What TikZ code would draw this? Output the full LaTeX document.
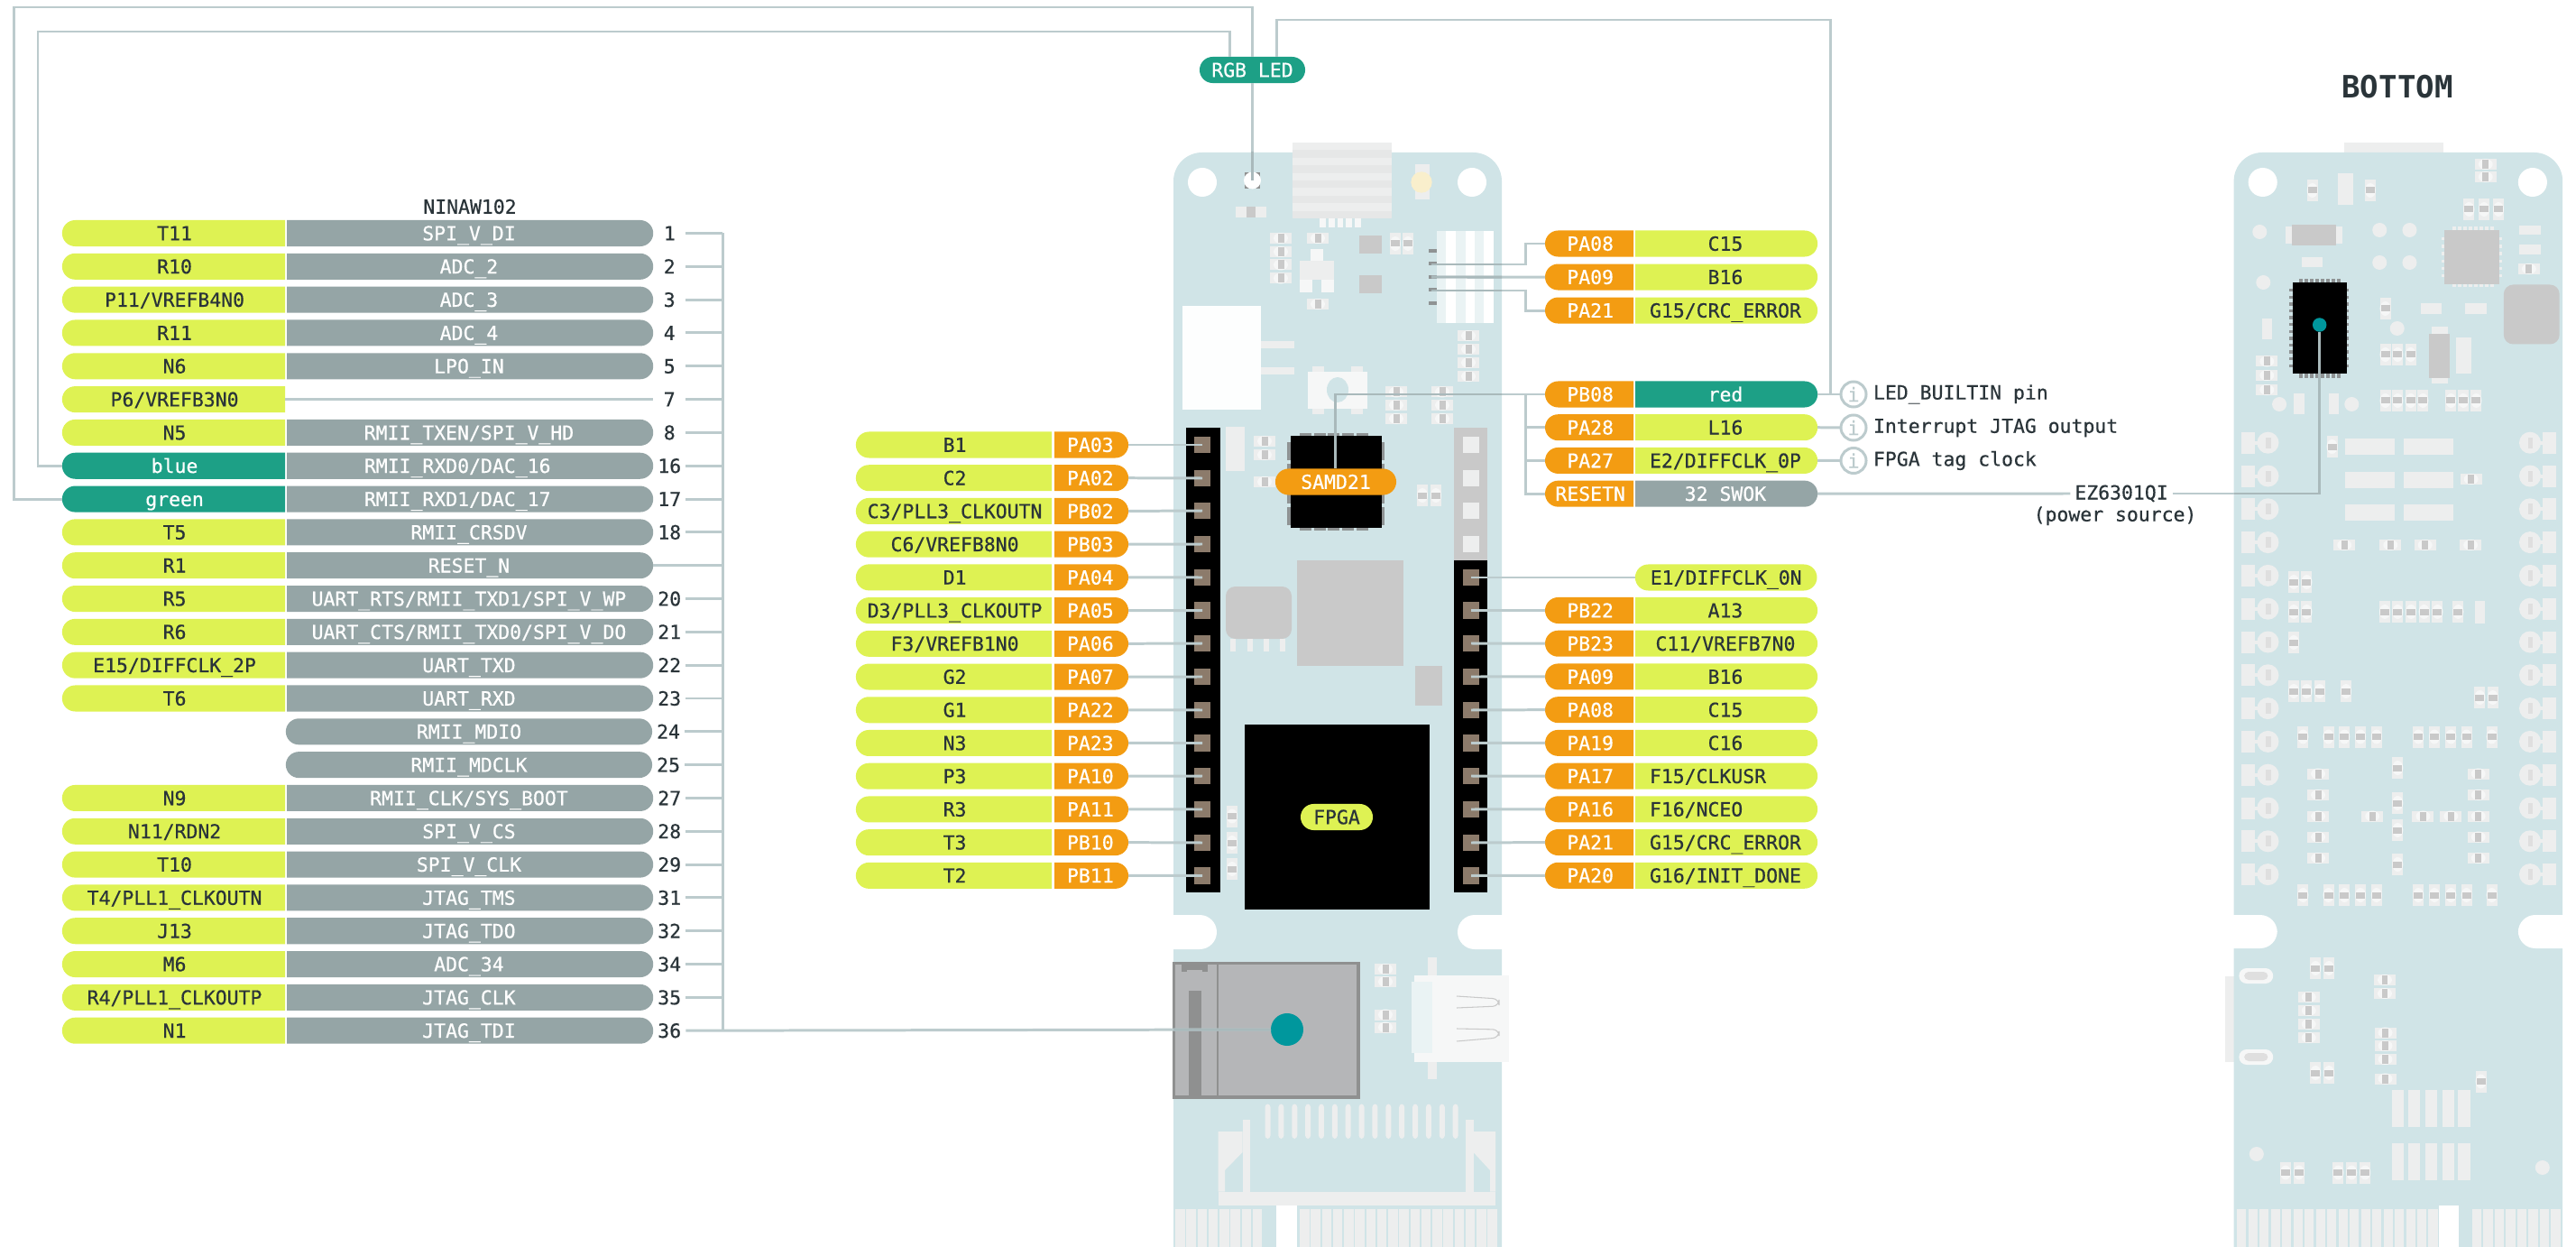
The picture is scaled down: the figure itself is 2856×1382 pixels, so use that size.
\documentclass[tikz,border=0pt]{standalone}
\usepackage{fontspec}
\setmonofont{DejaVu Sans Mono}
\newfontfamily\pinfont[FakeBold=0.5]{DejaVu Sans Mono}
\usetikzlibrary{positioning,calc,shapes.misc}
\definecolor{pinyellow}{HTML}{DEF253}
\definecolor{pingrey}{HTML}{95A5A6}
\definecolor{pinteal}{HTML}{1DA086}
\definecolor{pinorange}{HTML}{F39C12}
\definecolor{pintext}{HTML}{2A3439}
\definecolor{wirecol}{HTML}{BCCBCD}
\definecolor{wireoncol}{HTML}{A9B9BB}
\definecolor{boardcol}{HTML}{D0E4E7}
\definecolor{partlight}{HTML}{EDEEEE}
\definecolor{partwhite}{HTML}{F6F7F7}
\definecolor{partcore}{HTML}{C9C9C9}
\definecolor{dotteal}{HTML}{00979D}
\definecolor{padbrown}{HTML}{8C7B6B}
\definecolor{usbedge}{HTML}{8F9090}
\definecolor{usbbody}{HTML}{B5B6B8}
\definecolor{ledcol}{HTML}{F9EFCC}
\definecolor{legcol}{HTML}{8F9394}
\tikzset{
  tag/.style={rounded rectangle, inner sep=0pt, outer sep=0pt, minimum height=0.29cm,
    text height=4.45pt, text depth=0pt, font=\pinfont\fontsize{6.1}{7}\selectfont},
  lcap/.style={tag, rounded rectangle east arc=none},
  rcap/.style={tag, rounded rectangle west arc=none},
  ylw/.style={fill=pinyellow, text=pintext},
  gry/.style={fill=pingrey, text=white},
  grn/.style={fill=pinteal, text=white},
  org/.style={fill=pinorange, text=white},
  tablea/.style={lcap, minimum width=2.47cm},
  tableb/.style={rcap, minimum width=4.06cm},
  midf/.style={lcap, ylw, minimum width=2.17cm},
  midm/.style={rcap, org, minimum width=0.82cm},
  rightm/.style={lcap, org, minimum width=0.98cm},
  rightf/.style={rcap, minimum width=2.02cm},
  numlab/.style={inner sep=0pt, outer sep=0pt, minimum width=0.36cm, minimum height=0.29cm, text=pintext,
    text height=4.45pt, text depth=0pt, font=\pinfont\fontsize{6.1}{7}\selectfont},
  sidelab/.style={inner sep=0pt, outer sep=0pt, text=pintext, font=\pinfont\fontsize{6.1}{7}\selectfont},
  infobadge/.style={circle, draw=wirecol, line width=0.85pt, fill=white, inner sep=0pt, outer sep=0pt, minimum size=0.28cm,
    text=wirecol, font=\pinfont\fontsize{6.1}{7}\selectfont},
  wire/.style={draw=wirecol, line width=0.85pt},
  wireon/.style={draw=wireoncol, line width=0.85pt},
  headpad/.style={fill=padbrown, inner sep=0pt, outer sep=0pt, minimum size=0.187cm},
  chipdot/.style={circle, fill=dotteal, inner sep=0pt, outer sep=0pt},
  body/.style={fill=boardcol},
  lightpart/.style={fill=partlight},
  greypart/.style={fill=partcore}
}
% small parts on the boards
\newcommand{\smdx}{1}
\newcommand{\smdh}[2]{%
  \fill[lightpart] (#1-12*\smdx,#2-6) rectangle (#1+12*\smdx,#2+6);
  \fill[partwhite] (#1,#2) ellipse ({8*\smdx} and 6);
  \fill[greypart] (#1-3.5*\smdx,#2-5) rectangle (#1+3.5*\smdx,#2+5);}
\newcommand{\smdv}[2]{%
  \fill[lightpart] (#1-6*\smdx,#2-12) rectangle (#1+6*\smdx,#2+12);
  \fill[partwhite] (#1,#2) ellipse ({6*\smdx} and 8);
  \fill[greypart] (#1-5*\smdx,#2-3.5) rectangle (#1+5*\smdx,#2+3.5);}
\newcommand{\padbox}[4]{\fill[lightpart] (#1,#2) rectangle (#3,#4);}
\newcommand{\greybox}[4]{\fill[greypart] (#1,#2) rectangle (#3,#4);}
\newcommand{\padspot}[2]{\fill[lightpart] (#1,#2) ellipse (7 and 8);}

\begin{document}
\begin{tikzpicture}[x=0.01cm, y=-0.01cm]
  \useasboundingbox (0,0) rectangle (2856,1382);

  % top of the board
  \fill[body] (1301,1382) [rounded corners=9pt] -- (1301,169) -- (1665,169) [sharp corners] -- (1665,1382) -- cycle;
  \fill[white, rounded corners=5.4pt] (1280,1014) rectangle (1349,1052);
  \fill[white, rounded corners=5.4pt] (1616,1014) rectangle (1690,1052);
  \fill[partlight!97!black] (1432.5,158) rectangle (1542.5,242);
  \foreach \k in {0,2,4,6,8} \padbox{1432.5}{158+\k*8.4}{1542.5}{166.4+\k*8.4}
  \foreach \k in {0,...,4} \fill[partwhite] (1463.3+\k*9.7,242.5) rectangle (1470+\k*9.7,252.5);
  \fill[white] (1333,202) circle (16);
  \fill[white] (1632,202) circle (16);
  \fill[usbedge] (1380,191) rectangle (1397,209);
  \padbox{1568.5}{182.5}{1584.5}{221.5}
  \fill[ledcol] (1576,202) circle (11.7);
  \padbox{1369.5}{229}{1403.5}{241}
  \greybox{1381.5}{229}{1391.5}{241}
  \smdh{1420}{264} \smdh{1420}{279} \smdh{1420}{293.5} \smdh{1420}{308.5}
  \smdh{1461}{264} \smdh{1461}{337}
  \fill[partwhite] (1452.5,276) rectangle (1466.5,290);
  \padbox{1440.5}{289.5}{1478.5}{310.5}
  \fill[partwhite] (1440.5,310.5) rectangle (1455,324);
  \fill[partwhite] (1464.5,310.5) rectangle (1478.5,324);
  \greybox{1506.5}{261}{1531.5}{281}
  \greybox{1506.5}{305}{1531.5}{325}
  \smdv{1547}{270} \smdv{1561}{270}
  \fill[white] (1593,256) rectangle (1655.5,358);
  \fill[boardcol!45!white] (1593,256) rectangle (1603,358);
  \fill[boardcol!45!white] (1614,256) rectangle (1625,358);
  \fill[boardcol!45!white] (1635,256) rectangle (1645,358);
  \fill[legcol] (1584,276) rectangle (1593,280);
  \fill[legcol] (1584,290.5) rectangle (1593,294.5);
  \fill[legcol] (1584,305) rectangle (1593,309);
  \fill[legcol] (1584,319.5) rectangle (1593,323.5);
  \fill[legcol] (1584,334) rectangle (1593,338);
  \smdh{1628}{372} \smdh{1628}{387} \smdh{1628}{402} \smdh{1628}{417}
  \fill[white!96!boardcol] (1311,339) rectangle (1398,454);
  \padbox{1398}{378}{1435}{386} \padbox{1398}{407}{1435}{415}
  \padbox{1455}{406}{1468}{459} \padbox{1498}{406}{1511}{459}
  \fill[partwhite] (1450,412) rectangle (1516,453);
  \fill[boardcol] (1483,432) ellipse (12 and 14);
  \smdh{1548}{434.5} \smdh{1548}{449} \smdh{1548}{464}
  \smdh{1599}{434.5} \smdh{1599}{449} \smdh{1599}{464}
  \smdh{1402}{489} \smdh{1402}{504} \smdh{1402}{534}
  \padbox{1359}{473}{1380}{522}
  \smdv{1577}{549} \smdv{1592}{549}
  \greybox{1438}{621}{1556}{738}
  \fill[greypart, rounded corners=3pt] (1359,650) rectangle (1432,708);
  \padbox{1364}{708}{1370}{722} \padbox{1383}{708}{1389}{722} \padbox{1401}{708}{1407}{722} \padbox{1419}{708}{1425}{722}
  \greybox{1569}{738}{1599}{782}
  \smdv{1366}{904.5} \smdv{1366}{934} \smdv{1366}{963}
  % headers and chips
  \fill[black] (1315,474) rectangle (1352.5,988.5);
  \greybox{1612}{474}{1649}{621}
  \padbox{1622}{484}{1640}{502} \padbox{1622}{521}{1640}{539} \padbox{1622}{557}{1640}{575} \padbox{1622}{594}{1640}{612}
  \fill[black] (1612,621) rectangle (1649,988.5);
  \foreach \k in {0,...,4} {
    \fill[legcol] (1441+\k*15.7,480) rectangle (1454+\k*15.7,486);
    \fill[legcol] (1441+\k*15.7,582) rectangle (1454+\k*15.7,588);}
  \foreach \k in {0,...,3} {
    \fill[legcol] (1427,490+\k*24) rectangle (1434,510+\k*24);
    \fill[legcol] (1528,490+\k*24) rectangle (1535,510+\k*24);}
  \fill[black] (1430.5,483) rectangle (1532,584.5);
  \fill[black] (1380,803) rectangle (1585,1008);
  % usb, connector
  \fill[usbedge] (1299.5,1065.5) rectangle (1507.5,1218);
  \fill[usbbody] (1303,1069) rectangle (1504,1214);
  \fill[usbedge] (1349,1069) rectangle (1351,1214);
  \fill[usbedge] (1318,1098) rectangle (1332,1214);
  \fill[usbedge] (1310,1069) rectangle (1339,1077);
  \fill[usbbody] (1316,1075) rectangle (1333,1078);
  \smdh{1536}{1074} \smdh{1536}{1088} \smdh{1536}{1124.5} \smdh{1536}{1138.5}
  \padbox{1582.5}{1061}{1593}{1196}
  \fill[partwhite] (1568,1081) rectangle (1673,1177);
  \fill[boardcol!45!white] (1565,1088) rectangle (1588,1167);
  \draw[partcore, line width=0.3pt, rounded corners=2pt] (1615,1104) -- (1662,1107) -- (1662,1115) -- (1615,1117);
  \draw[partcore, line width=0.3pt, rounded corners=2pt] (1615,1140) -- (1662,1141) -- (1662,1150) -- (1615,1154);
  \foreach \k in {0,...,14} \fill[lightpart, rounded corners=1pt] (1402.5+\k*14.87,1223.5) rectangle (1408.5+\k*14.87,1262);
  \padbox{1350.5}{1320.5}{1658}{1335.5}
  \padbox{1377.5}{1241}{1386}{1320.5} \padbox{1625}{1241}{1633.5}{1320.5}
  \fill[lightpart] (1350.5,1254) -- (1377.5,1254) -- (1377.5,1277) -- (1358,1297) -- (1358,1320.5) -- (1350.5,1320.5) -- cycle;
  \fill[lightpart] (1658,1254) -- (1633.5,1254) -- (1633.5,1277) -- (1652,1297) -- (1652,1320.5) -- (1658,1320.5) -- cycle;
  \foreach \k in {0,...,7} \padbox{1303+\k*12.25}{1340}{1313.5+\k*12.25}{1382}
  \foreach \k in {0,...,17} \padbox{1441+\k*12.25}{1340}{1451.5+\k*12.25}{1382}
  \fill[white] (1415,1335.5) rectangle (1438,1382);

  % bottom of the board
  \begin{scope}[xshift=-3.511cm, xscale=1.1463]
  \renewcommand{\smdx}{0.87}
  \padbox{2573.5}{158}{2669.5}{169.5}
  \padbox{2459}{1081.5}{2467}{1177}
  \fill[body] (2467,1382) [rounded corners=9pt] -- (2467,169) -- (2785,169) [sharp corners] -- (2785,1382) -- cycle;
  \fill[white, rounded corners=5.4pt] (2440,1014) rectangle (2509,1051);
  \fill[white, rounded corners=5.4pt] (2742,1014) rectangle (2810,1051);
  \fill[white] (2495,202) ellipse (14 and 16);
  \fill[white] (2756,202) ellipse (14 and 16);
  \smdv{2543}{211} \smdv{2599}{211}
  \padbox{2567.5}{192}{2582.5}{227}
  \smdh{2710.5}{182} \smdh{2710.5}{196}
  \smdv{2694.5}{232} \smdv{2709}{232} \smdv{2723}{232}
  \padspot{2492}{257} \padspot{2608}{255} \padspot{2637}{255} \padspot{2608}{291} \padspot{2637}{291} \padspot{2495.5}{313}
  \padspot{2625}{364} \padspot{2511}{448} \padspot{2581}{448}
  \padbox{2517}{251}{2572}{270} \greybox{2523}{249.5}{2566}{272}
  \padbox{2533}{285}{2553}{296}
  \foreach \k in {0,...,7} {
    \padbox{2678+\k*5.3}{251.5}{2681.5+\k*5.3}{259.5}
    \padbox{2678+\k*5.3}{310}{2681.5+\k*5.3}{318.5}}
  \foreach \k in {0,...,5} {
    \padbox{2668}{263+\k*8.2}{2675}{266.5+\k*8.2}
    \padbox{2719.5}{263+\k*8.2}{2726}{266.5+\k*8.2}}
  \greybox{2671}{255}{2724}{315}
  \padbox{2743}{250}{2763.5}{260.5} \padbox{2743}{271.5}{2763.5}{282}
  \smdh{2752.5}{298}
  \fill[greypart, rounded corners=3pt] (2728,315.5) rectangle (2782,381.5);
  \foreach \k in {0,...,7} {
    \fill[legcol] (2530+\k*5.3,309) rectangle (2533.5+\k*5.3,318);
    \fill[legcol] (2530+\k*5.3,410) rectangle (2533.5+\k*5.3,419);}
  \foreach \k in {0,...,11} {
    \fill[legcol] (2520.5,320+\k*7.6) rectangle (2527.5,323.5+\k*7.6);
    \fill[legcol] (2571.5,320+\k*7.6) rectangle (2578.5,323.5+\k*7.6);}
  \fill[black] (2524,313) rectangle (2576,414.5);
  \smdv{2613.5}{342}
  \padbox{2648}{336.5}{2668}{348} \padbox{2691}{336.5}{2712}{348}
  \padbox{2494}{353}{2504}{376}
  \smdh{2499}{400.5} \smdh{2499}{416} \smdh{2499}{432}
  \padbox{2525}{436}{2535}{459} \padbox{2558.5}{436}{2568.5}{459}
  \smdv{2613.5}{393} \smdv{2625.5}{393} \smdv{2638}{393}
  \padbox{2658}{362}{2674}{425} \greybox{2656}{370}{2676}{419}
  \padbox{2682}{374}{2697}{414}
  \smdv{2613.5}{444} \smdv{2625.5}{444} \smdv{2638}{444} \smdv{2650}{444}
  \smdv{2677}{444} \smdv{2689}{444} \smdv{2701.5}{444}
  \smdv{2562}{495}
  \foreach \yy in {486,523,559} {
    \padbox{2575}{\yy}{2623}{\yy+18} \padbox{2631}{\yy}{2679}{\yy+18}}
  \smdh{2696.5}{531}
  \smdh{2574}{604} \smdh{2618.5}{604} \smdh{2652}{604} \smdh{2696}{604}
  \foreach \k in {0,...,13} {
    \padbox{2474.5}{478.7+\k*36.8}{2487}{502.7+\k*36.8}
    \padbox{2487}{488.7+\k*36.8}{2490}{492.7+\k*36.8}
    \fill[lightpart, rounded corners=3.4pt] (2489.5,478.7+\k*36.8) rectangle (2510.5,502.7+\k*36.8);
    \fill[partcore!40!partlight] (2497.5,484.7+\k*36.8) rectangle (2503,496.7+\k*36.8);
    \padbox{2766}{478.7+\k*36.8}{2779}{502.7+\k*36.8}
    \padbox{2763}{488.7+\k*36.8}{2766}{492.7+\k*36.8}
    \fill[lightpart, rounded corners=3.4pt] (2743,478.7+\k*36.8) rectangle (2764,502.7+\k*36.8);
    \fill[partcore!40!partlight] (2751.5,484.7+\k*36.8) rectangle (2756.5,496.7+\k*36.8);}
  \smdv{2525}{645} \smdv{2537.5}{645} \smdv{2525}{678} \smdv{2537.5}{678} \smdv{2525}{712}
  \smdv{2525}{766} \smdv{2537.5}{766} \smdv{2550}{766} \smdv{2575.5}{766}
  \smdv{2613}{678} \smdv{2625.5}{678} \smdv{2638.5}{678} \smdv{2651}{678} \smdv{2664}{678} \smdv{2684}{678}
  \padbox{2700}{666}{2710}{691}
  \smdv{2705}{773} \smdv{2717.5}{773}
  \foreach \yy in {816.5,992} {
    \smdv{2534}{\yy} \smdv{2558.5}{\yy} \smdv{2574}{\yy} \smdv{2589.5}{\yy} \smdv{2605}{\yy}
    \smdv{2645.5}{\yy} \smdv{2661}{\yy} \smdv{2677}{\yy} \smdv{2692}{\yy} \smdv{2716.5}{\yy}}
  \foreach \yy in {857.5,881,904.5,927.5,951} {
    \smdh{2548.5}{\yy} \smdh{2703.5}{\yy}}
  \smdv{2625.5}{851} \smdv{2625.5}{890} \smdv{2625.5}{920} \smdv{2625.5}{958}
  \smdh{2601}{904.5} \smdh{2650}{904.5} \smdh{2677}{904.5}
  \fill[partwhite, rounded corners=2.4pt] (2472,1073) rectangle (2505,1090);
  \fill[partcore!40!partlight, rounded corners=1.4pt] (2477,1077) rectangle (2500,1086);
  \fill[partwhite, rounded corners=2.4pt] (2472,1163) rectangle (2505,1180);
  \fill[partcore!40!partlight, rounded corners=1.4pt] (2477,1167) rectangle (2500,1176);
  \smdv{2546}{1073} \smdv{2559}{1073} \smdv{2546}{1189} \smdv{2559}{1189}
  \smdh{2539.5}{1105} \smdh{2539.5}{1120} \smdh{2539.5}{1135} \smdh{2539.5}{1150}
  \smdh{2613}{1086} \smdh{2613}{1101}
  \smdh{2613.5}{1144.5} \smdh{2613.5}{1159} \smdh{2613.5}{1174} \smdh{2613.5}{1195.5}
  \smdv{2706}{1198.5}
  \foreach \xx in {2620,2635.5,2652,2668.5,2684} {
    \padbox{\xx}{1208}{\xx+11.5}{1249} \padbox{\xx}{1267}{\xx+11.5}{1308}}
  \padspot{2489}{1279} \padspot{2765.5}{1294}
  \smdv{2517}{1299.5} \smdv{2530}{1299.5} \smdv{2568}{1299.5} \smdv{2581}{1299.5} \smdv{2594}{1299.5}
  \foreach \k in {0,...,17} \padbox{2470+\k*10.9}{1339.5}{2479+\k*10.9}{1382}
  \foreach \k in {0,...,7} \padbox{2697.5+\k*10.9}{1339.5}{2706.5+\k*10.9}{1382}
  \fill[white] (2665,1336) rectangle (2684.5,1382);
  \end{scope}

  % points on the boards
  \node[circle, fill=white, inner sep=0pt, minimum size=0.19cm] (ledpt) at (1388.5,200) {};
  \node[chipdot, minimum size=0.36cm] (fpgadot) at (1427,1141) {};
  \node[chipdot, minimum size=0.155cm] (powerdot) at (2571.7,360) {};

  \node[headpad] (lp1) at (1333,493) {};
  \node[headpad] (lp2) at (1333,530) {};
  \node[headpad] (lp3) at (1333,566) {};
  \node[headpad] (lp4) at (1333,603) {};
  \node[headpad] (lp5) at (1333,640) {};
  \node[headpad] (lp6) at (1333,676.5) {};
  \node[headpad] (lp7) at (1333,713) {};
  \node[headpad] (lp8) at (1333,750) {};
  \node[headpad] (lp9) at (1333,787) {};
  \node[headpad] (lp10) at (1333,823.5) {};
  \node[headpad] (lp11) at (1333,860) {};
  \node[headpad] (lp12) at (1333,897) {};
  \node[headpad] (lp13) at (1333,934) {};
  \node[headpad] (lp14) at (1333,970.5) {};
  \node[headpad] (rp1) at (1631,640) {};
  \node[headpad] (rp2) at (1631,676.5) {};
  \node[headpad] (rp3) at (1631,713) {};
  \node[headpad] (rp4) at (1631,750) {};
  \node[headpad] (rp5) at (1631,787) {};
  \node[headpad] (rp6) at (1631,823.5) {};
  \node[headpad] (rp7) at (1631,860) {};
  \node[headpad] (rp8) at (1631,897) {};
  \node[headpad] (rp9) at (1631,934) {};
  \node[headpad] (rp10) at (1631,970.5) {};

  % NINA table
  \node[sidelab] (ninatitle) at (521,229) {NINAW102};

  \node[tablea, ylw, anchor=east] (fp1) at (316,258.5) {T11};
  \node[tablea, ylw, below=0.078cm of fp1] (fp2) {R10};
  \node[tablea, ylw, below=0.078cm of fp2] (fp3) {P11/VREFB4N0};
  \node[tablea, ylw, below=0.078cm of fp3] (fp4) {R11};
  \node[tablea, ylw, below=0.078cm of fp4] (fp5) {N6\ };
  \node[tablea, ylw, below=0.078cm of fp5] (fp6) {P6/VREFB3N0};
  \node[tablea, ylw, below=0.078cm of fp6] (fp7) {N5\ };
  \node[tablea, grn, below=0.078cm of fp7] (fp8) {blue};
  \node[tablea, grn, below=0.078cm of fp8] (fp9) {green};
  \node[tablea, ylw, below=0.078cm of fp9] (fp10) {T5\ };
  \node[tablea, ylw, below=0.078cm of fp10] (fp11) {R1\ };
  \node[tablea, ylw, below=0.078cm of fp11] (fp12) {R5\ };
  \node[tablea, ylw, below=0.078cm of fp12] (fp13) {R6\ };
  \node[tablea, ylw, below=0.078cm of fp13] (fp14) {E15/DIFFCLK\_2P};
  \node[tablea, ylw, below=0.078cm of fp14] (fp15) {T6\ };
  \node[tablea, ylw, below=0.814cm of fp15] (fp18) {N9\ };
  \node[tablea, ylw, below=0.078cm of fp18] (fp19) {N11/RDN2};
  \node[tablea, ylw, below=0.078cm of fp19] (fp20) {T10};
  \node[tablea, ylw, below=0.078cm of fp20] (fp21) {T4/PLL1\_CLKOUTN};
  \node[tablea, ylw, below=0.078cm of fp21] (fp22) {J13};
  \node[tablea, ylw, below=0.078cm of fp22] (fp23) {M6\ };
  \node[tablea, ylw, below=0.078cm of fp23] (fp24) {R4/PLL1\_CLKOUTP};
  \node[tablea, ylw, below=0.078cm of fp24] (fp25) {N1\ };

  \node[tableb, gry, right=0.02cm of fp1] (ni1) {SPI\_V\_DI};
  \node[tableb, gry, right=0.02cm of fp2] (ni2) {ADC\_2};
  \node[tableb, gry, right=0.02cm of fp3] (ni3) {ADC\_3};
  \node[tableb, gry, right=0.02cm of fp4] (ni4) {ADC\_4};
  \node[tableb, gry, right=0.02cm of fp5] (ni5) {LPO\_IN};
  \node[tableb, gry, right=0.02cm of fp7] (ni7) {RMII\_TXEN/SPI\_V\_HD};
  \node[tableb, gry, right=0.02cm of fp8] (ni8) {\makebox[2.32cm][l]{RMII\_RXD0/DAC\_16}};
  \node[tableb, gry, right=0.02cm of fp9] (ni9) {\makebox[2.32cm][l]{RMII\_RXD1/DAC\_17}};
  \node[tableb, gry, right=0.02cm of fp10] (ni10) {RMII\_CRSDV};
  \node[tableb, gry, right=0.02cm of fp11] (ni11) {RESET\_N};
  \node[tableb, gry, right=0.02cm of fp12] (ni12) {UART\_RTS/RMII\_TXD1/SPI\_V\_WP};
  \node[tableb, gry, right=0.02cm of fp13] (ni13) {UART\_CTS/RMII\_TXD0/SPI\_V\_DO};
  \node[tableb, gry, right=0.02cm of fp14] (ni14) {UART\_TXD};
  \node[tableb, gry, right=0.02cm of fp15] (ni15) {UART\_RXD};
  \node[tag, gry, minimum width=4.06cm, below=0.078cm of ni15] (ni16) {RMII\_MDIO};
  \node[tag, gry, minimum width=4.06cm, below=0.078cm of ni16] (ni17) {RMII\_MDCLK};
  \node[tableb, gry, right=0.02cm of fp18] (ni18) {RMII\_CLK/SYS\_BOOT};
  \node[tableb, gry, right=0.02cm of fp19] (ni19) {SPI\_V\_CS};
  \node[tableb, gry, right=0.02cm of fp20] (ni20) {SPI\_V\_CLK};
  \node[tableb, gry, right=0.02cm of fp21] (ni21) {JTAG\_TMS};
  \node[tableb, gry, right=0.02cm of fp22] (ni22) {JTAG\_TDO};
  \node[tableb, gry, right=0.02cm of fp23] (ni23) {ADC\_34};
  \node[tableb, gry, right=0.02cm of fp24] (ni24) {JTAG\_CLK};
  \node[tableb, gry, right=0.02cm of fp25] (ni25) {JTAG\_TDI};

  \node[numlab, right=0cm of ni1] (no1) {1};
  \node[numlab, right=0cm of ni2] (no2) {2};
  \node[numlab, right=0cm of ni3] (no3) {3};
  \node[numlab, right=0cm of ni4] (no4) {4};
  \node[numlab, right=0cm of ni5] (no5) {5};
  \node[numlab, below=0.078cm of no5] (no7) {7};
  \node[numlab, right=0cm of ni7] (no8) {8};
  \node[numlab, right=0cm of ni8] (no16) {16};
  \node[numlab, right=0cm of ni9] (no17) {17};
  \node[numlab, right=0cm of ni10] (no18) {18};
  \node[numlab, right=0cm of ni12] (no20) {20};
  \node[numlab, right=0cm of ni13] (no21) {21};
  \node[numlab, right=0cm of ni14] (no22) {22};
  \node[numlab, right=0cm of ni15] (no23) {23};
  \node[numlab, right=0cm of ni16] (no24) {24};
  \node[numlab, right=0cm of ni17] (no25) {25};
  \node[numlab, right=0cm of ni18] (no27) {27};
  \node[numlab, right=0cm of ni19] (no28) {28};
  \node[numlab, right=0cm of ni20] (no29) {29};
  \node[numlab, right=0cm of ni21] (no31) {31};
  \node[numlab, right=0cm of ni22] (no32) {32};
  \node[numlab, right=0cm of ni23] (no34) {34};
  \node[numlab, right=0cm of ni24] (no35) {35};
  \node[numlab, right=0cm of ni25] (no36) {36};

  % pins left of the board
  \node[midf, anchor=east] (lf1) at (1166,493) {B1};
  \node[midf, below=0.077cm of lf1] (lf2) {C2};
  \node[midf, below=0.077cm of lf2] (lf3) {C3/PLL3\_CLKOUTN};
  \node[midf, below=0.077cm of lf3] (lf4) {C6/VREFB8N0};
  \node[midf, below=0.077cm of lf4] (lf5) {D1};
  \node[midf, below=0.077cm of lf5] (lf6) {D3/PLL3\_CLKOUTP};
  \node[midf, below=0.077cm of lf6] (lf7) {F3/VREFB1N0};
  \node[midf, below=0.077cm of lf7] (lf8) {G2};
  \node[midf, below=0.077cm of lf8] (lf9) {G1};
  \node[midf, below=0.077cm of lf9] (lf10) {N3};
  \node[midf, below=0.077cm of lf10] (lf11) {P3};
  \node[midf, below=0.077cm of lf11] (lf12) {R3};
  \node[midf, below=0.077cm of lf12] (lf13) {T3};
  \node[midf, below=0.077cm of lf13] (lf14) {T2};
  \node[midm, right=0.03cm of lf1] (lm1) {PA03};
  \node[midm, right=0.03cm of lf2] (lm2) {PA02};
  \node[midm, right=0.03cm of lf3] (lm3) {PB02};
  \node[midm, right=0.03cm of lf4] (lm4) {PB03};
  \node[midm, right=0.03cm of lf5] (lm5) {PA04};
  \node[midm, right=0.03cm of lf6] (lm6) {PA05};
  \node[midm, right=0.03cm of lf7] (lm7) {PA06};
  \node[midm, right=0.03cm of lf8] (lm8) {PA07};
  \node[midm, right=0.03cm of lf9] (lm9) {PA22};
  \node[midm, right=0.03cm of lf10] (lm10) {PA23};
  \node[midm, right=0.03cm of lf11] (lm11) {PA10};
  \node[midm, right=0.03cm of lf12] (lm12) {PA11};
  \node[midm, right=0.03cm of lf13] (lm13) {PB10};
  \node[midm, right=0.03cm of lf14] (lm14) {PB11};

  % pins right of the board
  \node[tag, ylw, minimum width=2.015cm, anchor=east] (rf1) at (2014.5,640) {E1/DIFFCLK\_0N};
  \node[rightm, anchor=west] (rm2) at (1713,676.5) {PB22};
  \node[rightm, below=0.077cm of rm2] (rm3) {PB23};
  \node[rightm, below=0.077cm of rm3] (rm4) {PA09};
  \node[rightm, below=0.077cm of rm4] (rm5) {PA08};
  \node[rightm, below=0.077cm of rm5] (rm6) {PA19};
  \node[rightm, below=0.077cm of rm6] (rm7) {PA17};
  \node[rightm, below=0.077cm of rm7] (rm8) {PA16};
  \node[rightm, below=0.077cm of rm8] (rm9) {PA21};
  \node[rightm, below=0.077cm of rm9] (rm10) {PA20};
  \node[rightf, ylw, right=0.02cm of rm2] (rf2) {A13};
  \node[rightf, ylw, right=0.02cm of rm3] (rf3) {C11/VREFB7N0};
  \node[rightf, ylw, right=0.02cm of rm4] (rf4) {B16};
  \node[rightf, ylw, right=0.02cm of rm5] (rf5) {C15};
  \node[rightf, ylw, right=0.02cm of rm6] (rf6) {C16};
  \node[rightf, ylw, right=0.02cm of rm7] (rf7) {\makebox[1.68cm][l]{F15/CLKUSR}};
  \node[rightf, ylw, right=0.02cm of rm8] (rf8) {\makebox[1.68cm][l]{F16/NCEO}};
  \node[rightf, ylw, right=0.02cm of rm9] (rf9) {G15/CRC\_ERROR};
  \node[rightf, ylw, right=0.02cm of rm10] (rf10) {G16/INIT\_DONE};

  \node[rightm, anchor=west] (um1) at (1713,270) {PA08};
  \node[rightm, below=0.08cm of um1] (um2) {PA09};
  \node[rightm, below=0.08cm of um2] (um3) {PA21};
  \node[rightf, ylw, right=0.02cm of um1] (uf1) {C15};
  \node[rightf, ylw, right=0.02cm of um2] (uf2) {B16};
  \node[rightf, ylw, right=0.02cm of um3] (uf3) {G15/CRC\_ERROR};

  \node[rightm, anchor=west] (sm1) at (1713,437) {PB08};
  \node[rightm, below=0.077cm of sm1] (sm2) {PA28};
  \node[rightm, below=0.077cm of sm2] (sm3) {PA27};
  \node[rightm, below=0.077cm of sm3] (sm4) {RESETN};
  \node[rightf, grn, right=0.02cm of sm1] (sf1) {red};
  \node[rightf, ylw, right=0.02cm of sm2] (sf2) {L16};
  \node[rightf, ylw, right=0.02cm of sm3] (sf3) {E2/DIFFCLK\_0P};
  \node[rightf, gry, right=0.02cm of sm4] (sf4) {32 SWOK};

  \node[infobadge, anchor=west] (info1) at (2041,437) {i};
  \node[infobadge, anchor=west] (info2) at (2041,474) {i};
  \node[infobadge, anchor=west] (info3) at (2041,510.5) {i};
  \node[sidelab, right=0.08cm of info1] (infolab1) {LED\_BUILTIN pin};
  \node[sidelab, right=0.08cm of info2] (infolab2) {Interrupt JTAG output};
  \node[sidelab, right=0.08cm of info3] (infolab3) {FPGA tag clock};

  \node[sidelab, fill=white, inner xsep=0.05cm] (power) at (2352,547) {EZ6301QI};
  \node[sidelab, below=0.05cm of power, xshift=-0.07cm] (powernote) {(power source)};
  \node[text=pintext, inner sep=0pt, font=\ttfamily\bfseries\fontsize{9.7}{11}\selectfont] (bottomlab) at (2658,96) {BOTTOM};

  % chip labels
  \node[tag, org, minimum width=1.34cm] (samd) at (1481,534) {SAMD21};
  \node[tag, ylw, minimum width=0.8cm] (fpga) at (1482,905.5) {FPGA};
  \node[tag, grn, minimum width=1.17cm] (rgb) at (1388.5,77.5) {RGB LED};

  \coordinate (greenup) at (15.5,8);
  \coordinate (blueup) at (42,35);
  \coordinate (blueend) at (1363,63);
  \coordinate (redup) at (2029,22);
  \coordinate (redend) at (1415,63);
  \coordinate (nobus) at (801,258.5);
  \coordinate (rbus) at (1691,437);
  \coordinate (spi1) at (1587,293);
  \coordinate (spi2) at (1587,307);
  \coordinate (spi3) at (1587,322);
  \coordinate (pwrbend) at (1480.5,437);

  \draw[wire] (fp9.west) -| (greenup) -| (rgb.north);
  \draw[wire] (fp8.west) -| (blueup) -| (blueend);
  \draw[wire] (redup |- sf1.east) -- (redup) -| (redend);
  \draw[wire] (sf1.east) -- (info1.west);
  \draw[wire] (sf2.east) -- (info2.west);
  \draw[wire] (sf3.east) -- (info3.west);
  \draw[wire] (rgb.south) -- (ledpt.center);
  \draw[wire] (fp6.east) -- (no7.west);
  \draw[wire] (nobus) -- (nobus |- no36);
  \draw[wire] (no1.east) -- (nobus |- no1);
  \draw[wire] (no2.east) -- (nobus |- no2);
  \draw[wire] (no3.east) -- (nobus |- no3);
  \draw[wire] (no4.east) -- (nobus |- no4);
  \draw[wire] (no5.east) -- (nobus |- no5);
  \draw[wire] (no7.east) -- (nobus |- no7);
  \draw[wire] (no8.east) -- (nobus |- no8);
  \draw[wire] (no16.east) -- (nobus |- no16);
  \draw[wire] (no17.east) -- (nobus |- no17);
  \draw[wire] (no18.east) -- (nobus |- no18);
  \draw[wire] (ni11.east) -- (nobus |- ni11);
  \draw[wire] (no20.east) -- (nobus |- no20);
  \draw[wire] (no21.east) -- (nobus |- no21);
  \draw[wire] (no22.east) -- (nobus |- no22);
  \draw[wire] (no23.east) -- (nobus |- no23);
  \draw[wire] (no24.east) -- (nobus |- no24);
  \draw[wire] (no25.east) -- (nobus |- no25);
  \draw[wire] (no27.east) -- (nobus |- no27);
  \draw[wire] (no28.east) -- (nobus |- no28);
  \draw[wire] (no29.east) -- (nobus |- no29);
  \draw[wire] (no31.east) -- (nobus |- no31);
  \draw[wire] (no32.east) -- (nobus |- no32);
  \draw[wire] (no34.east) -- (nobus |- no34);
  \draw[wire] (no35.east) -- (nobus |- no35);
  \draw[wire] (no36.east) -- (fpgadot.west);
  \draw[wire] (lm1.east) -- (lp1.center);
  \draw[wire] (lm2.east) -- (lp2.center);
  \draw[wire] (lm3.east) -- (lp3.center);
  \draw[wire] (lm4.east) -- (lp4.center);
  \draw[wire] (lm5.east) -- (lp5.center);
  \draw[wire] (lm6.east) -- (lp6.center);
  \draw[wire] (lm7.east) -- (lp7.center);
  \draw[wire] (lm8.east) -- (lp8.center);
  \draw[wire] (lm9.east) -- (lp9.center);
  \draw[wire] (lm10.east) -- (lp10.center);
  \draw[wire] (lm11.east) -- (lp11.center);
  \draw[wire] (lm12.east) -- (lp12.center);
  \draw[wire] (lm13.east) -- (lp13.center);
  \draw[wire] (lm14.east) -- (lp14.center);
  \draw[wire] (rf1.west) -- (rp1.center);
  \draw[wire] (rm2.west) -- (rp2.center);
  \draw[wire] (rm3.west) -- (rp3.center);
  \draw[wire] (rm4.west) -- (rp4.center);
  \draw[wire] (rm5.west) -- (rp5.center);
  \draw[wire] (rm6.west) -- (rp6.center);
  \draw[wire] (rm7.west) -- (rp7.center);
  \draw[wire] (rm8.west) -- (rp8.center);
  \draw[wire] (rm9.west) -- (rp9.center);
  \draw[wire] (rm10.west) -- (rp10.center);
  \draw[wire] (um1.west) -| (rbus |- spi1) -- (spi1);
  \draw[wire] (um2.west) -- (spi2);
  \draw[wire] (um3.west) -| (rbus |- spi3) -- (spi3);
  \draw[wire] (sm1.west) -| (pwrbend |- samd.north);
  \draw[wire] (rbus) |- (sm2.west);
  \draw[wire] (rbus) |- (sm3.west);
  \draw[wire] (rbus) |- (sm4.west);
  \draw[wire] (sf4.east) -- (power.west);
  \draw[wire] (power.east) -| (powerdot.south);

  % the same wires look darker over the boards
  \begin{scope}
    \clip (1301,169) rectangle (1665,1382);
    \draw[wireon] (rgb.south) -- (ledpt.center);
    \draw[wireon] (no36.east) -- (fpgadot.west);
    \draw[wireon] (um1.west) -| (rbus |- spi1) -- (spi1);
    \draw[wireon] (um2.west) -- (spi2);
    \draw[wireon] (um3.west) -| (rbus |- spi3) -- (spi3);
    \draw[wireon] (sm1.west) -| (pwrbend |- samd.north);
  \end{scope}
  \begin{scope}
    \clip (2477,169) rectangle (2841,1382);
    \draw[wireon] (power.east) -| (powerdot.south);
  \end{scope}
\end{tikzpicture}
\end{document}
